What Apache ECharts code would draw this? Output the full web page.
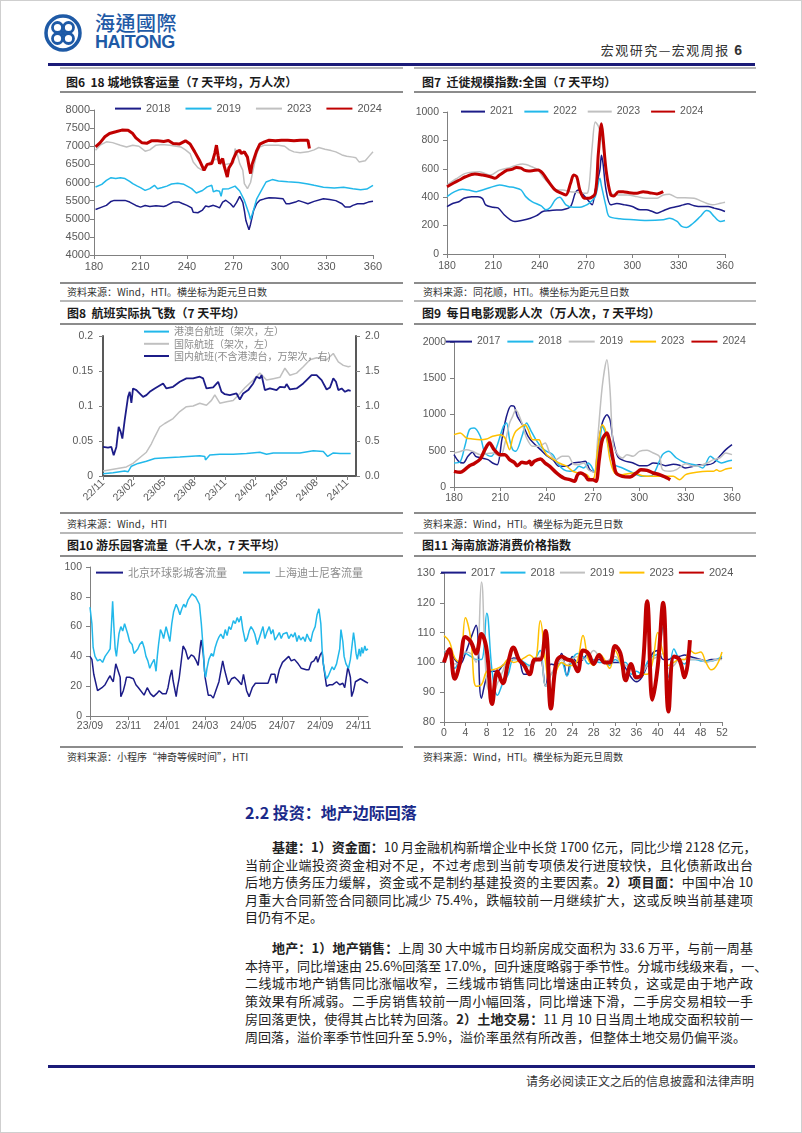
<!DOCTYPE html>
<html><head><meta charset="utf-8">
<script src="https://cdn.jsdelivr.net/npm/echarts@6/dist/echarts.min.js"></script>
<style>
html,body{margin:0;padding:0;background:#fff;}
#page{position:relative;width:802px;height:1133px;overflow:hidden;font-family:"Noto Sans CJK SC",sans-serif;box-shadow:inset 0 0 0 1px #cfcfcf;}
.hl{position:absolute;}
.ttl{position:absolute;font-size:12px;font-weight:700;color:#1a1a1a;line-height:14px;white-space:pre;}
.src{position:absolute;font-size:10px;color:#333;line-height:12px;white-space:pre;}
.chart{position:absolute;}
.ln{position:absolute;left:245px;width:508px;font-size:13px;line-height:17px;color:#222;text-align:justify;text-align-last:justify;white-space:nowrap;}
.ln.last{text-align-last:left;}
.ln b{font-weight:700;}
</style></head>
<body><div id="page">
<!-- header -->
<svg class="hl" style="left:44px;top:13px" width="38" height="40" viewBox="0 0 38 40">
 <circle cx="19" cy="20" r="17" fill="none" stroke="#1e5aa6" stroke-width="3.5"/>
 <circle cx="13.5" cy="14.5" r="5" fill="none" stroke="#1e5aa6" stroke-width="2.8"/>
 <circle cx="24.5" cy="14.5" r="5" fill="none" stroke="#1e5aa6" stroke-width="2.8"/>
 <circle cx="13.5" cy="25.5" r="5" fill="none" stroke="#1e5aa6" stroke-width="2.8"/>
 <circle cx="24.5" cy="25.5" r="5" fill="none" stroke="#1e5aa6" stroke-width="2.8"/>
 <circle cx="19" cy="20" r="2.2" fill="#1e5aa6"/>
</svg>
<div class="hl" style="left:95px;top:11px;font-family:'Noto Sans CJK TC';font-size:20px;line-height:23px;font-weight:500;color:#1e5aa6;letter-spacing:0.5px">海通國際</div>
<div class="hl" style="left:95px;top:33px;font-family:'Liberation Sans',Arial;font-size:18px;line-height:19px;font-weight:700;color:#1e5aa6;letter-spacing:-0.4px">HAITONG</div>
<div class="hl" style="right:60px;top:42px;font-size:13px;line-height:16px;color:#333;white-space:nowrap;letter-spacing:1.5px">宏观研究—宏观周报 <b style="font-family:'Liberation Sans',Arial;font-size:14px;letter-spacing:0">6</b></div>
<div class="hl" style="left:48px;top:63px;width:707px;height:3px;background:#1b1b78"></div>

<!-- panel lines -->
<div class="hl" style="left:60px;top:67px;width:343px;height:2px;background:#b8b8b8"></div>
<div class="hl" style="left:414px;top:67px;width:342px;height:2px;background:#b8b8b8"></div>
<div class="hl" style="left:60px;top:91px;width:343px;height:1.5px;background:#8c8c8c"></div>
<div class="hl" style="left:414px;top:91px;width:342px;height:1.5px;background:#8c8c8c"></div>
<div class="hl" style="left:60px;top:282px;width:343px;height:1.5px;background:#8c8c8c"></div>
<div class="hl" style="left:414px;top:282px;width:342px;height:1.5px;background:#8c8c8c"></div>

<div class="hl" style="left:60px;top:300px;width:343px;height:2px;background:#b8b8b8"></div>
<div class="hl" style="left:414px;top:300px;width:342px;height:2px;background:#b8b8b8"></div>
<div class="hl" style="left:60px;top:323px;width:343px;height:1.5px;background:#8c8c8c"></div>
<div class="hl" style="left:414px;top:323px;width:342px;height:1.5px;background:#8c8c8c"></div>
<div class="hl" style="left:60px;top:512px;width:343px;height:1.5px;background:#8c8c8c"></div>
<div class="hl" style="left:414px;top:512px;width:342px;height:1.5px;background:#8c8c8c"></div>

<div class="hl" style="left:60px;top:532px;width:343px;height:2px;background:#b8b8b8"></div>
<div class="hl" style="left:414px;top:532px;width:342px;height:2px;background:#b8b8b8"></div>
<div class="hl" style="left:60px;top:555px;width:343px;height:1.5px;background:#8c8c8c"></div>
<div class="hl" style="left:414px;top:555px;width:342px;height:1.5px;background:#8c8c8c"></div>
<div class="hl" style="left:60px;top:746px;width:343px;height:1.5px;background:#8c8c8c"></div>
<div class="hl" style="left:414px;top:746px;width:342px;height:1.5px;background:#8c8c8c"></div>

<!-- titles -->
<div class="ttl" style="left:66px;top:75px">图6  18 城地铁客运量（7 天平均，万人次）</div>
<div class="ttl" style="left:422px;top:75px">图7  迁徙规模指数:全国（7 天平均）</div>
<div class="ttl" style="left:67px;top:306px">图8  航班实际执飞数（7 天平均）</div>
<div class="ttl" style="left:422px;top:306px">图9  每日电影观影人次（万人次，7 天平均）</div>
<div class="ttl" style="left:67px;top:538px">图10 游乐园客流量（千人次，7 天平均）</div>
<div class="ttl" style="left:422px;top:538px">图11 海南旅游消费价格指数</div>

<!-- sources -->
<div class="src" style="left:67px;top:286px">资料来源：Wind，HTI。横坐标为距元旦日数</div>
<div class="src" style="left:423px;top:286px">资料来源：同花顺，HTI。横坐标为距元旦日数</div>
<div class="src" style="left:67px;top:518px">资料来源：Wind，HTI</div>
<div class="src" style="left:423px;top:518px">资料来源：Wind，HTI。横坐标为距元旦日数</div>
<div class="src" style="left:67px;top:751px">资料来源：小程序“神奇等候时间”，HTI</div>
<div class="src" style="left:423px;top:751px">资料来源：Wind，HTI。横坐标为距元旦周数</div>

<!-- charts -->
<div id="c6" class="chart" style="left:40px;top:95px;width:370px;height:185px"></div>
<div id="c7" class="chart" style="left:410px;top:95px;width:380px;height:185px"></div>
<div id="c8" class="chart" style="left:40px;top:320px;width:370px;height:190px"></div>
<div id="c9" class="chart" style="left:410px;top:325px;width:380px;height:185px"></div>
<div id="c10" class="chart" style="left:40px;top:558px;width:370px;height:185px"></div>
<div id="c11" class="chart" style="left:410px;top:558px;width:380px;height:185px"></div>

<!-- text -->
<div class="hl" style="left:245px;top:802px;font-size:16px;line-height:20px;font-weight:700;color:#1a2a8a;white-space:nowrap">2.2 投资：地产边际回落</div>
<div class="ln" style="top:838px;padding-left:27px;width:481px"><b>基建：1）资金面：</b>10 月金融机构新增企业中长贷 1700 亿元，同比少增 2128 亿元，</div>
<div class="ln" style="top:856px">当前企业端投资资金相对不足，不过考虑到当前专项债发行进度较快，且化债新政出台</div>
<div class="ln" style="top:873px">后地方债务压力缓解，资金或不是制约基建投资的主要因素。<b>2）项目面：</b>中国中冶 10</div>
<div class="ln" style="top:891px">月重大合同新签合同额同比减少 75.4%，跌幅较前一月继续扩大，这或反映当前基建项</div>
<div class="ln last" style="top:908px">目仍有不足。</div>

<div class="ln" style="top:939px;padding-left:27px;width:481px"><b>地产：1）地产销售：</b>上周 30 大中城市日均新房成交面积为 33.6 万平，与前一周基</div>
<div class="ln" style="top:957px">本持平，同比增速由 25.6%回落至 17.0%，回升速度略弱于季节性。分城市线级来看，一、</div>
<div class="ln" style="top:974px">二线城市地产销售同比涨幅收窄，三线城市销售同比增速由正转负，这或是由于地产政</div>
<div class="ln" style="top:992px">策效果有所减弱。二手房销售较前一周小幅回落，同比增速下滑，二手房交易相较一手</div>
<div class="ln" style="top:1010px">房回落更快，使得其占比转为回落。<b>2）土地交易：</b>11 月 10 日当周土地成交面积较前一</div>
<div class="ln last" style="top:1028px">周回落，溢价率季节性回升至 5.9%，溢价率虽然有所改善，但整体土地交易仍偏平淡。</div>

<div class="hl" style="left:48px;top:1065px;width:707px;height:3px;background:#1b1b78"></div>
<div class="hl" style="right:48px;top:1073px;font-size:12px;line-height:15px;color:#333;white-space:nowrap">请务必阅读正文之后的信息披露和法律声明</div>
</div>

<script>
// ---------------- data ----------------
// Fig 6: metro passengers (x = days since Jan 1)
const metro2018 = [[181,5256],[185,5321],[188,5370],[191,5478],[193,5506],[200,5506],[203,5460],[207,5367],[210,5321],[213,5367],[216,5340],[220,5360],[225,5340],[227,5367],[231,5459],[235,5459],[237,5420],[240,5370],[243,5300],[244,5182],[247,5165],[250,5240],[252,5350],[254,5330],[257,5370],[259,5340],[261,5300],[263,5460],[265,5510],[268,5414],[270,5320],[271,5275],[272,5450],[274,5617],[276,5450],[277,5228],[278,4951],[280,4693],[281,4850],[283,5230],[285,5420],[287,5510],[290,5549],[293,5580],[297,5570],[302,5550],[304,5413],[306,5413],[310,5460],[312,5500],[315,5459],[318,5413],[322,5480],[328,5551],[332,5530],[336,5500],[340,5413],[342,5321],[345,5321],[347,5370],[350,5413],[354,5413],[357,5459],[360,5480]];
const metro2019 = [[181,5875],[185,5950],[188,6060],[191,6134],[194,6110],[197,6134],[200,6110],[203,6030],[205,5967],[208,5900],[210,5857],[213,5783],[216,5830],[219,5922],[221,5830],[224,5860],[227,5900],[230,5960],[234,5980],[238,5950],[241,5880],[243,5830],[246,5709],[250,5780],[253,5880],[256,5922],[257,5740],[259,5780],[261,5760],[262,5617],[263,5820],[267,5830],[271,5900],[274,5765],[277,5506],[280,5136],[281,4980],[283,5250],[285,5550],[288,5783],[291,6014],[295,6080],[299,6040],[305,6020],[312,6000],[318,5960],[322,5922],[328,5870],[335,5848],[341,5870],[347,5829],[352,5802],[356,5820],[360,5922]];
const metro2023 = [[181,6891],[184,7030],[188,7122],[192,7100],[197,7030],[201,6980],[205,7030],[209,7000],[213,6864],[216,6900],[220,7030],[224,7050],[229,7030],[233,7000],[236,6980],[239,6900],[242,6799],[244,6568],[247,6411],[250,6337],[253,6480],[256,6600],[259,6650],[262,6521],[265,6500],[268,6521],[270,6550],[271,6937],[272,6850],[274,6522],[276,6337],[277,5968],[279,5829],[281,6000],[283,6420],[285,6800],[287,6980],[290,7030],[295,7030],[299,7030],[303,7000],[306,6900],[309,6845],[313,6820],[318,6845],[322,6900],[325,6965],[329,6920],[333,6880],[336,6845],[340,6760],[343,6725],[347,6700],[349,6680],[351,6568],[355,6600],[357,6700],[360,6845]];
const metro2024 = [[181,6983],[184,7100],[187,7261],[190,7353],[194,7399],[198,7446],[202,7440],[205,7350],[207,7233],[211,7094],[214,7080],[217,7150],[221,7150],[225,7130],[228,7160],[231,7076],[235,7060],[239,7150],[242,7060],[245,6845],[248,6614],[250,6430],[251,6337],[253,6500],[256,6522],[258,6817],[259,7030],[260,6750],[261,6520],[263,6661],[264,6450],[266,6152],[267,6400],[269,6540],[270,6661],[272,6845],[274,6890],[275,6800],[277,6845],[279,6700],[280,6450],[281,6245],[282,6500],[285,6880],[287,7057],[290,7120],[293,7168],[297,7150],[301,7168],[305,7168],[309,7150],[313,7168],[316,7168],[318,7168],[319,6937]];

// Fig 7: migration index
const mig2021 = [[180,334],[184,357],[188,370],[191,393],[196,404],[200,404],[203,390],[205,346],[210,329],[213,325],[217,276],[221,241],[224,229],[229,238],[234,252],[238,270],[242,299],[246,305],[251,310],[255,312],[260,334],[263,428],[265,451],[268,420],[272,369],[274,346],[276,451],[279,591],[280,696],[281,640],[283,450],[286,346],[290,355],[295,346],[300,334],[305,311],[309,311],[313,299],[316,287],[320,305],[324,322],[329,334],[333,346],[336,353],[340,340],[345,334],[349,334],[353,323],[356,315],[360,299]];
const mig2022 = [[180,404],[185,439],[190,456],[194,450],[199,439],[203,451],[208,468],[214,486],[220,474],[224,467],[228,451],[231,404],[235,369],[241,339],[244,311],[247,330],[250,381],[253,400],[257,346],[262,329],[266,329],[269,339],[272,357],[276,404],[279,533],[280,480],[283,334],[285,264],[292,248],[301,241],[309,236],[320,241],[324,252],[329,229],[332,194],[335,187],[339,213],[344,264],[348,306],[350,300],[353,264],[357,229],[360,236]];
const mig2023 = [[180,486],[186,530],[192,568],[201,579],[208,556],[214,591],[221,610],[225,626],[229,633],[235,614],[239,590],[242,544],[247,486],[251,451],[255,451],[260,439],[264,435],[268,428],[271,430],[274,755],[276,930],[278,900],[280,825],[283,591],[286,428],[291,416],[297,416],[303,404],[309,393],[316,393],[320,416],[324,421],[329,397],[334,397],[340,393],[344,376],[348,357],[352,346],[357,357],[360,364]];
const mig2024 = [[180,474],[184,498],[188,521],[192,544],[198,563],[203,556],[208,544],[211,533],[214,556],[219,591],[222,596],[225,610],[228,605],[230,591],[233,585],[236,588],[239,591],[242,568],[245,521],[250,451],[254,428],[257,416],[260,498],[262,556],[264,544],[266,451],[269,393],[272,393],[276,428],[278,708],[280,918],[281,825],[283,591],[286,416],[288,409],[291,439],[294,439],[298,432],[303,428],[307,439],[311,432],[316,423],[320,439]];

// Fig 8: flights (x = days since 2022-11-01)
const flightsHKMT = [[0,0.0033],[30,0.0048],[65,0.007],[75,0.006],[85,0.014],[105,0.018],[130,0.021],[155,0.025],[190,0.026],[230,0.027],[290,0.029],[305,0.028],[307,0.023],[320,0.030],[350,0.031],[390,0.031],[430,0.032],[470,0.034],[490,0.031],[510,0.033],[550,0.033],[590,0.033],[630,0.036],[660,0.035],[673,0.028],[690,0.033],[710,0.032],[742,0.032]];
const flightsIntl = [[0,0.0072],[70,0.013],[90,0.018],[110,0.026],[130,0.034],[145,0.046],[155,0.056],[170,0.070],[185,0.075],[210,0.082],[230,0.092],[250,0.099],[270,0.100],[290,0.104],[310,0.101],[325,0.108],[335,0.116],[350,0.104],[370,0.106],[390,0.108],[410,0.118],[425,0.126],[450,0.137],[470,0.147],[490,0.137],[510,0.139],[530,0.141],[545,0.154],[560,0.144],[580,0.147],[600,0.156],[620,0.166],[640,0.169],[655,0.168],[670,0.166],[690,0.175],[705,0.163],[720,0.158],[735,0.156],[742,0.157]];
const flightsDom = [[0,0.415],[15,0.406],[25,0.415],[32,0.296],[40,0.415],[47,0.702],[53,0.630],[58,0.535],[65,0.797],[75,1.131],[80,1.203],[85,1.045],[90,1.251],[100,1.227],[120,1.131],[130,1.155],[140,1.203],[155,1.251],[180,1.322],[190,1.251],[210,1.274],[230,1.346],[250,1.394],[270,1.394],[290,1.418],[300,1.394],[310,1.251],[330,1.265],[345,1.346],[355,1.203],[365,1.169],[380,1.155],[400,1.179],[410,1.093],[420,1.179],[435,1.227],[450,1.322],[460,1.418],[470,1.394],[475,1.442],[485,1.227],[500,1.251],[520,1.227],[530,1.274],[545,1.265],[550,1.313],[560,1.236],[580,1.251],[600,1.322],[610,1.370],[625,1.442],[640,1.442],[655,1.370],[670,1.236],[680,1.265],[690,1.394],[698,1.346],[705,1.227],[715,1.251],[725,1.203],[735,1.227],[742,1.217]];
const flightTicks = ['22/11','23/02','23/05','23/08','23/11','24/02','24/05','24/08','24/11'];

// Fig 9: box office attendance
const film2017 = [[180,446],[183,354],[186,331],[189,423],[192,478],[194,423],[198,400],[202,377],[205,331],[208,308],[211,653],[214,975],[217,1122],[219,1113],[221,975],[225,837],[228,699],[231,616],[236,515],[240,432],[244,377],[248,285],[253,285],[257,331],[261,340],[265,354],[268,239],[271,202],[273,515],[276,883],[279,998],[281,929],[283,653],[286,423],[290,363],[296,331],[300,294],[305,294],[309,331],[313,322],[317,294],[322,313],[326,299],[330,262],[335,285],[339,308],[344,308],[348,331],[352,423],[356,515],[360,584]];
const film2018 = [[180,331],[184,350],[187,561],[190,791],[193,814],[197,699],[200,469],[204,423],[207,515],[212,837],[214,883],[216,653],[218,515],[220,492],[224,699],[227,883],[230,768],[233,653],[237,538],[240,492],[244,446],[247,331],[251,239],[255,216],[258,230],[261,285],[264,262],[267,331],[269,285],[271,202],[274,515],[276,837],[278,745],[281,469],[284,308],[289,262],[296,193],[302,147],[308,156],[315,446],[319,492],[324,400],[330,331],[337,299],[341,262],[346,423],[349,377],[353,331],[357,354],[360,368]];
const film2019 = [[180,469],[184,490],[188,515],[192,492],[197,446],[201,460],[205,469],[210,423],[213,607],[216,883],[218,975],[220,1067],[224,883],[227,676],[231,561],[235,561],[239,607],[242,469],[246,377],[250,423],[254,423],[257,322],[260,308],[264,331],[267,239],[269,216],[271,202],[273,653],[276,1389],[279,1756],[281,1343],[283,607],[286,446],[289,400],[292,446],[296,423],[300,492],[305,506],[309,469],[313,423],[315,239],[320,216],[324,239],[330,322],[335,285],[339,294],[344,331],[348,377],[352,400],[356,469],[360,446]];
const film2023 = [[180,722],[184,745],[188,676],[192,662],[197,653],[201,662],[205,699],[210,722],[213,676],[216,515],[218,676],[220,768],[224,837],[226,860],[228,791],[231,653],[235,653],[237,561],[240,446],[244,386],[248,331],[253,285],[257,216],[261,193],[266,170],[269,101],[271,147],[273,515],[276,860],[278,791],[281,377],[284,193],[289,170],[296,193],[302,156],[308,147],[315,147],[322,147],[326,101],[330,170],[337,202],[344,216],[348,216],[350,239],[352,216],[356,248],[360,262]];
const film2024 = [[180,216],[184,202],[187,239],[190,294],[193,322],[197,386],[200,515],[203,607],[206,515],[210,446],[213,446],[216,377],[219,340],[221,294],[224,340],[227,331],[229,354],[230,308],[232,354],[236,386],[239,331],[242,285],[246,202],[251,124],[255,101],[258,78],[260,170],[262,193],[265,156],[267,101],[270,101],[272,78],[274,377],[276,653],[279,745],[281,607],[283,377],[285,193],[289,147],[294,138],[298,193],[301,239],[305,230],[309,193],[313,170],[318,124],[320,101]];

// Fig 10: theme parks (x = days since 2023-09-01)
const parkBeijing = [[0,40],[3,38],[6,28],[12,17],[19,19],[24,21],[29,25],[32,27],[34,25],[37,23],[41,35],[43,34],[48,26],[49,13],[53,17],[56,22],[58,26],[63,26],[69,25],[73,21],[77,19],[80,18],[86,14],[91,19],[96,15],[101,13],[106,15],[110,17],[115,15],[121,15],[124,19],[127,26],[130,31],[132,24],[137,13],[139,19],[142,26],[148,47],[152,44],[156,38],[161,41],[165,40],[169,37],[172,34],[176,49],[177,51],[180,42],[183,26],[188,14],[192,14],[196,12],[200,17],[205,23],[211,37],[214,31],[220,21],[225,25],[230,26],[235,24],[241,21],[244,28],[249,17],[253,13],[258,19],[263,22],[270,22],[278,22],[283,22],[288,28],[294,28],[296,22],[301,31],[306,36],[311,38],[316,40],[320,37],[325,38],[331,35],[336,32],[344,31],[348,31],[352,36],[356,37],[360,40],[362,36],[366,41],[369,43],[371,35],[376,20],[381,21],[386,21],[392,23],[397,21],[402,22],[405,19],[410,33],[414,26],[416,13],[419,17],[422,23],[426,24],[430,25],[434,24],[438,23],[442,22]];
const parkShanghai = [[0,73],[3,62],[5,46],[8,40],[12,37],[16,38],[20,36],[24,40],[26,39],[29,43],[32,45],[34,60],[36,77],[38,60],[40,45],[42,40],[46,55],[49,60],[52,57],[55,62],[58,63],[60,55],[63,50],[67,48],[70,42],[73,42],[76,45],[79,48],[83,50],[86,46],[89,40],[92,37],[95,32],[98,35],[102,38],[105,30],[107,40],[109,48],[112,58],[115,55],[117,52],[121,60],[124,55],[127,50],[130,62],[133,70],[137,75],[140,72],[143,68],[146,72],[149,75],[152,73],[156,78],[159,80],[162,82],[165,81],[168,80],[171,79],[174,75],[177,62],[180,45],[182,30],[184,26],[186,32],[189,38],[193,42],[196,40],[199,46],[202,50],[205,53],[208,55],[212,52],[215,58],[218,54],[221,60],[224,58],[228,64],[231,62],[234,66],[237,63],[240,67],[243,58],[247,50],[250,52],[253,57],[256,60],[259,58],[262,55],[266,48],[269,52],[272,56],[275,60],[278,52],[281,56],[285,60],[288,55],[291,58],[294,51],[297,53],[301,56],[304,52],[307,55],[310,54],[313,56],[316,52],[320,55],[323,53],[326,56],[329,50],[332,54],[335,51],[339,53],[342,50],[345,55],[348,52],[351,50],[354,56],[358,60],[361,68],[364,72],[367,62],[369,45],[371,35],[374,28],[376,25],[379,27],[382,30],[385,33],[388,31],[392,35],[395,34],[397,45],[399,58],[402,50],[404,40],[407,35],[411,32],[414,38],[416,45],[419,56],[421,50],[423,42],[425,38],[428,45],[430,40],[432,46],[434,42],[437,47],[439,44],[442,45]];
const parkTicks = ['23/09','23/11','24/01','24/03','24/05','24/07','24/09','24/11'];

// Fig 11: Hainan tourism price index (weekly, week 0..52)
const hn2017 = [100,104.5,101,99.5,103,108,112.5,88,95,97,97,99,100,101.5,101,96,96,101,101,92,99.5,99,103,95.5,102,100,101,103,100,101,100,100,100,100,98,95,93.5,95,99,103,104,101,101,102,102,102.5,102,101.5,101,100.5,101,101,101.5];
const hn2018 = [104,103,98,101,103,102,101,101,116.5,97,89,93,96,101,101,100,99,101,104,92,96,98,100,95.5,101,103,102,99.5,101,100,100,99,101,100,100,96,97,96,100,102,103,112,95,104.5,101,99.5,101,101,100.5,100.5,100.5,101,102];
const hn2019 = [104,103.5,99.5,100,103.5,103,100,127,93,89,93,97,101,101,101,99,98.5,100,102,92,96,99,101,99,101,102,101,102,104,102,100,101,102,100,99,98,94,96,99,101,102,103,98,99,101,101,101,101,101,100,100.5,101,101];
const hn2023 = [109,107,101.5,100,115,108,92,92.5,97,97.5,98,99,101,100,100.5,101.5,102.5,101,114,100,90,97,100,99,99,101,109,101,99,103,101,98,104,100,95,98.5,95,96,96,100,110,103,99,100,101,101,104,103,103.5,100,97.5,99,103.5];
const hn2024 = [100,104.5,94.5,100,108.5,107,103,109.5,104,86,97,93,100,105,101,99,96,101,101,110.5,84.5,100,102,101,100.5,97,104,103,99.5,102.5,100,100,105.5,103,94,99.5,95,96,120.5,87.5,99,120,83.5,102,101,95,107.5];

// ---------------- styles ----------------
const NAVY='#1c1c88', CYAN='#22b8ea', GRAY='#c0c0c0', RED='#c00000', ORANGE='#ffc000';
const FONT='"Liberation Sans", Arial, sans-serif';
const CJK='"Noto Sans CJK SC", sans-serif';
const plain = v => String(v);
function lbl(size, margin, extra){return Object.assign({color:'#595959',fontSize:size,fontFamily:FONT,margin:margin,formatter:plain},extra||{});}
const AXLINE={show:true,lineStyle:{color:'#808080',width:1}};
const AXTICK={show:true,length:4,lineStyle:{color:'#808080'}};
function valAxis(min,max,interval,label,extra){
  return Object.assign({type:'value',min,max,interval,axisLabel:label,axisLine:AXLINE,axisTick:AXTICK,splitLine:{show:false}},extra||{});
}
function ser(name,data,color,width,extra){
  return Object.assign({type:'line',name,data,symbol:'none',showSymbol:false,lineStyle:{color,width},itemStyle:{color},emphasis:{disabled:true},animation:false},extra||{});
}
function legend(left,top,w,gap,textStyle,extra){
  return Object.assign({left,top,itemWidth:w,itemHeight:14,itemGap:gap,padding:0,itemStyle:{opacity:0,borderWidth:0},
    textStyle:Object.assign({color:'#595959',fontSize:11,fontFamily:FONT},textStyle||{})},extra||{});
}
function draw(id,opt){const c=echarts.init(document.getElementById(id),null,{renderer:'canvas'});opt.animation=false;c.setOption(opt);}
const weekPairs = arr => arr.map((v,i)=>[i,v]);

// Fig 6
draw('c6',{
  grid:{left:54,top:15,width:279,height:145,outerBoundsMode:'none'},
  legend:legend(74,8,26,14,{fontSize:11}),
  xAxis:valAxis(180,360,30,lbl(11,6)),
  yAxis:valAxis(4000,8000,500,lbl(11,4)),
  series:[ser('2018',metro2018,NAVY,1.5),ser('2019',metro2019,CYAN,1.5),ser('2023',metro2023,GRAY,1.5),ser('2024',metro2024,RED,3)]
});
// Fig 7
draw('c7',{
  grid:{left:37,top:17,width:278,height:142,outerBoundsMode:'none'},
  legend:legend(50,11,24,10,{fontSize:10.5}),
  xAxis:valAxis(180,360,30,lbl(10.5,7)),
  yAxis:valAxis(0,1000,200,lbl(10.5,8)),
  series:[ser('2021',mig2021,NAVY,1.5,{smooth:0.3}),ser('2022',mig2022,CYAN,1.5,{smooth:0.3}),ser('2023',mig2023,GRAY,1.5,{smooth:0.3}),ser('2024',mig2024,RED,3,{smooth:0.3})]
});
// Fig 8
const Q = 91.375;
draw('c8',{
  grid:{left:63,top:16,width:253,height:140,outerBoundsMode:'none'},
  legend:legend(103,6,25,1,{fontSize:10,color:'#8c8c8c',fontFamily:CJK},{orient:'vertical'}),
  xAxis:valAxis(0,758,Q,lbl(10.5,5,{rotate:45,showMaxLabel:false,formatter:v=>{const i=Math.round(v/Q);return Math.abs(v-i*Q)<1&&flightTicks[i]?flightTicks[i]:'';}}),{axisLine:{show:true,lineStyle:{color:'#595959',width:2}}}),
  yAxis:[
    valAxis(0,0.2,0.05,lbl(10.5,10),{axisLine:{show:true,lineStyle:{color:'#595959',width:2}}}),
    valAxis(0,2,0.5,lbl(10.5,9,{formatter:v=>v.toFixed(1)}),{position:'right',axisLine:{show:true,lineStyle:{color:'#595959',width:2}}})
  ],
  series:[
    ser('港澳台航班（架次，左）',flightsHKMT,CYAN,1.5),
    ser('国际航班（架次，左）',flightsIntl,GRAY,1.5),
    ser('国内航班(不含港澳台，万架次，右)',flightsDom,NAVY,1.8,{yAxisIndex:1})
  ]
});
// Fig 9
draw('c9',{
  grid:{left:44,top:17,width:278,height:145,outerBoundsMode:'none'},
  legend:legend(35,11,26,6,{fontSize:10.5}),
  xAxis:valAxis(180,360,30,lbl(10.5,6)),
  yAxis:valAxis(0,2000,500,lbl(10.5,8)),
  series:[ser('2017',film2017,NAVY,1.5,{smooth:0.3}),ser('2018',film2018,CYAN,1.5,{smooth:0.3}),ser('2019',film2019,GRAY,1.5,{smooth:0.3}),ser('2023',film2023,ORANGE,1.5,{smooth:0.3}),ser('2024',film2024,RED,3.5,{smooth:0.3})]
});
// Fig 10
draw('c10',{
  grid:{left:50,top:9,width:278,height:149,outerBoundsMode:'none'},
  legend:legend(55,9,27,15,{fontSize:11,color:'#8c8c8c',fontFamily:CJK}),
  xAxis:valAxis(0,442,61,lbl(10.5,5,{showMaxLabel:false,formatter:v=>{const i=Math.round(v/61);return Math.abs(v-i*61)<1&&parkTicks[i]?parkTicks[i]:'';}})),
  yAxis:valAxis(0,100,20,lbl(10.5,8)),
  series:[ser('北京环球影城客流量',parkBeijing,NAVY,1.5),ser('上海迪士尼客流量',parkShanghai,CYAN,1.5)]
});
// Fig 11
draw('c11',{
  grid:{left:34,top:15,width:278,height:149,outerBoundsMode:'none'},
  legend:legend(30,9,25,4,{fontSize:11}),
  xAxis:valAxis(0,52,4,lbl(10.5,6)),
  yAxis:valAxis(80,130,10,lbl(11,9)),
  series:[ser('2017',weekPairs(hn2017),NAVY,1.5,{smooth:0.4}),ser('2018',weekPairs(hn2018),CYAN,1.5,{smooth:0.4}),ser('2019',weekPairs(hn2019),GRAY,1.5,{smooth:0.4}),ser('2023',weekPairs(hn2023),ORANGE,1.5,{smooth:0.4}),ser('2024',weekPairs(hn2024),RED,4,{smooth:0.4})]
});
</script>
</body></html>
